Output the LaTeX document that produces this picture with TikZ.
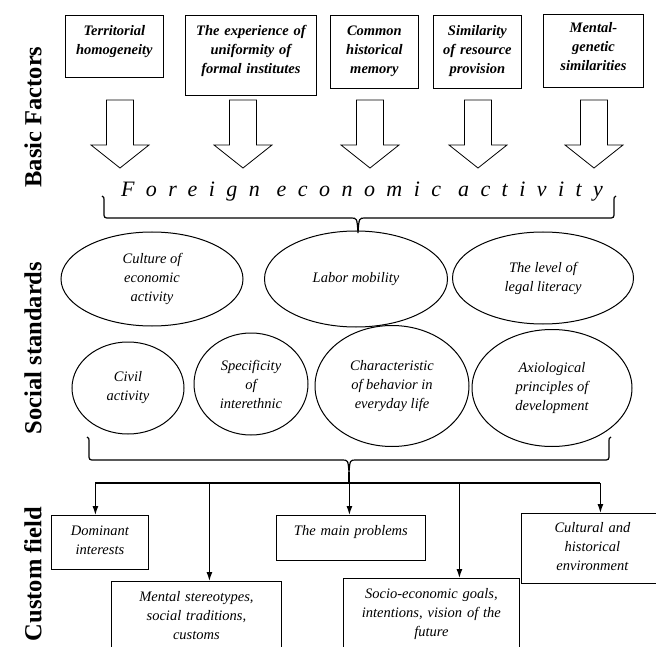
\documentclass[tikz,border=0pt]{standalone}
\usepackage{fontspec}
\setmainfont{Liberation Serif}
\newfontfamily\spacedfont[LetterSpace=52]{Liberation Serif}
\usetikzlibrary{arrows.meta,shapes.geometric}
\tikzset{
  factor/.style={draw, line width=0.8pt, inner sep=0pt, anchor=north west, align=center,
    font=\fontsize{14.5}{19}\selectfont\bfseries\itshape},
  standard/.style={draw, ellipse, line width=1pt, inner sep=0pt, align=center,
    font=\fontsize{14.5}{19}\selectfont\itshape},
  field/.style={draw, line width=0.8pt, inner sep=0pt, anchor=north west, align=center,
    font=\fontsize{14.5}{19}\selectfont\itshape},
  side/.style={rotate=90, font=\fontsize{24.5}{28}\selectfont\bfseries},
  hollow/.style={draw, line width=0.8pt},
  brace/.style={draw, line width=1.2pt},
  conn/.style={line width=1.2pt, -{Latex[length=9pt,width=6pt]}},
}
\begin{document}
\begin{tikzpicture}[x=1pt,y=-1pt]
\useasboundingbox (0,0) rectangle (656,647);
% levels
\node[side] (lbasic) at (33,117) {Basic Factors};
\node[side] (lsocial) at (33,348) {Social standards};
\node[side] (lcustom) at (33,574) {Custom field};
% basic factors
\node[factor, text width=98pt, text height=20pt, text depth=42pt] (f1) at (65,15) {Territorial\\homogeneity};
\node[factor, text width=131pt, text height=20pt, text depth=60pt] (f2) at (185,15) {The experience of\\uniformity of\\formal institutes};
\node[factor, text width=88pt, text height=20pt, text depth=53pt] (f3) at (330,15) {Common\\historical\\memory};
\node[factor, text width=88pt, text height=20pt, text depth=53pt] (f4) at (433,15) {Similarity\\of resource\\provision};
\node[factor, text width=100pt, text height=18pt, text depth=55pt] (f5) at (543,14) {Mental-\\genetic\\similarities};
% hollow arrows
\draw[hollow] (106.5,100) -- ++(0,45) -- ++(-15.5,0) -- ++(29,23) -- ++(29,-23) -- ++(-15.5,0) -- ++(0,-45) -- cycle;
\draw[hollow] (229.5,100) -- ++(0,45) -- ++(-15.5,0) -- ++(29,23) -- ++(29,-23) -- ++(-15.5,0) -- ++(0,-45) -- cycle;
\draw[hollow] (356.5,100) -- ++(0,45) -- ++(-15.5,0) -- ++(29,23) -- ++(29,-23) -- ++(-15.5,0) -- ++(0,-45) -- cycle;
\draw[hollow] (464.5,100) -- ++(0,45) -- ++(-15.5,0) -- ++(29,23) -- ++(29,-23) -- ++(-15.5,0) -- ++(0,-45) -- cycle;
\draw[hollow] (580.5,100) -- ++(0,45) -- ++(-15.5,0) -- ++(29,23) -- ++(29,-23) -- ++(-15.5,0) -- ++(0,-45) -- cycle;
\node[font=\spacedfont\itshape\fontsize{22}{26}\selectfont] (fea) at (362,192) {Foreign economic activity};
\draw[brace] (102,196) .. controls (104,197) .. (104,202) -- (104,212) .. controls (104,218) .. (110,218)
  -- (351,218) .. controls (357,218) .. (358,233) coordinate (tip1) .. controls (359,218) .. (365,218)
  -- (608,218) .. controls (614,218) .. (614,212) -- (614,202) .. controls (614,197) .. (616,196);
% social standards
\node[standard, minimum width=182pt, minimum height=94pt] (s1) at (152,279) {Culture of\\economic\\activity};
\node[standard, minimum width=183pt, minimum height=96pt] (s2) at (356,279) {Labor mobility};
\node[standard, minimum width=181pt, minimum height=92pt] (s3) at (543,278) {The level of\\legal literacy};
\node[standard, minimum width=112pt, minimum height=92pt] (s4) at (128,388) {Civil\\activity};
\node[standard, minimum width=114pt, minimum height=102pt] (s5) at (251,384) {Specificity\\of\\interethnic};
\node[standard, minimum width=154pt, minimum height=121pt] (s6) at (392,386) {Characteristic\\of behavior in\\everyday life};
\node[standard, minimum width=160pt, minimum height=117pt] (s7) at (552,388) {Axiological\\principles of\\development};
\draw[brace] (87,437) .. controls (89,438) .. (89,443) -- (89,454) .. controls (89,460) .. (95,460)
  -- (342,460) .. controls (348,460) .. (349,472) coordinate (tip2) .. controls (350,460) .. (356,460)
  -- (603,460) .. controls (609,460) .. (609,454) -- (609,443) .. controls (609,438) .. (611,437);
% custom field
\node[field, text width=97pt, text height=20pt, text depth=34pt] (c1) at (51,515) {Dominant\\interests};
\node[field, text width=170pt, text height=20pt, text depth=55pt] (c2) at (111,581) {Mental stereotypes,\\social traditions,\\customs};
\node[field, text width=149pt, text height=20pt, text depth=25pt] (c3) at (276,515) {The main problems};
\node[field, text width=176pt, text height=20pt, text depth=58pt] (c4) at (343,578) {Socio-economic goals,\\intentions, vision of the\\future};
\node[field, text width=142pt, text height=19pt, text depth=51pt] (c5) at (521,513) {Cultural and\\historical\\environment};
\coordinate (bus) at (349,483);
\coordinate (a1) at ([xshift=-4.5pt]c1.north);
\coordinate (a2) at ([xshift=13pt]c2.north);
\coordinate (a3) at ([xshift=-1.5pt]c3.north);
\coordinate (a4) at ([xshift=28pt]c4.north);
\coordinate (a5) at ([xshift=8pt]c5.north);
\draw[brace] (tip2) -- (bus);
\draw[brace] (a1 |- bus) -- (a5 |- bus);
\foreach \i in {1,...,5}
  \draw[conn] (a\i |- bus) -- (a\i);
\end{tikzpicture}
\end{document}
